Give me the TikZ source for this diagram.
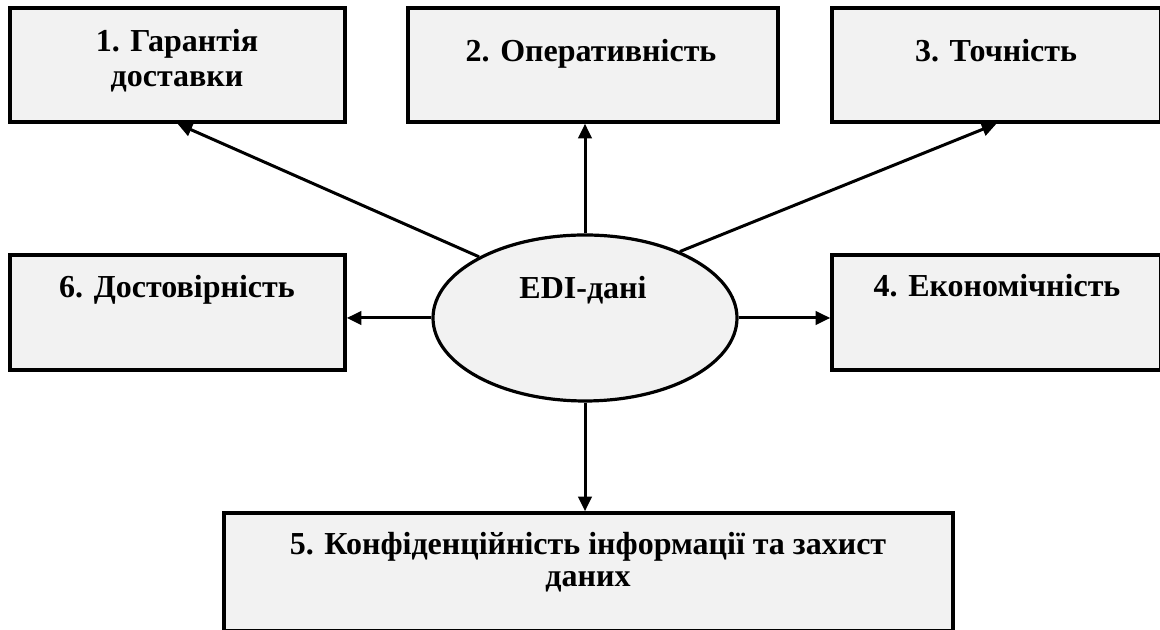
\documentclass[tikz,border=0pt]{standalone}
\usepackage{fontspec}
\setmainfont{Liberation Serif}
\usetikzlibrary{arrows.meta,shapes.geometric}

\definecolor{cellfill}{RGB}{242,242,242}

\tikzset{
  cellbox/.style={draw, line width=2.6pt, fill=cellfill, rectangle, inner sep=0pt},
  coreoval/.style={draw, line width=2.4pt, fill=cellfill, ellipse, inner sep=0pt,
    minimum width=228pt, minimum height=124.5pt},
  celltext/.style={font=\fontsize{24}{26.25}\selectfont\bfseries, align=center,
    inner sep=0pt, anchor=base},
  link/.style={line width=2.25pt, -{Triangle[length=11pt,width=10pt]}}
}

\begin{document}
\begin{tikzpicture}[x=0.75pt,y=0.75pt]
\useasboundingbox (0,0) rectangle (1160,630);

%Shape: Rectangle [id:box1]
\node[cellbox, minimum width=251.25pt, minimum height=85.5pt] (b1) at (177.5,565) {};
%Shape: Rectangle [id:box2]
\node[cellbox, minimum width=277.5pt, minimum height=85.5pt] (b2) at (593,565) {};
%Shape: Rectangle [id:box3]
\node[cellbox, minimum width=246.75pt, minimum height=85.5pt] (b3) at (996.5,565) {};
%Shape: Rectangle [id:box6]
\node[cellbox, minimum width=251.25pt, minimum height=86.25pt] (b6) at (177.5,317.5) {};
%Shape: Rectangle [id:box4]
\node[cellbox, minimum width=246.75pt, minimum height=86.25pt] (b4) at (996.5,317.5) {};
%Shape: Rectangle [id:box5]
\node[cellbox, minimum width=546.75pt, minimum height=88.5pt] (b5) at (588.5,58) {};
%Shape: Ellipse [id:core]
\node[coreoval] (e) at (585,312) {};

%Text
\node[celltext] (t1) at (177,543) {1. Гарантія\\доставки};
\node[celltext] (t2) at (591,568) {2. Оперативність};
\node[celltext] (t3) at (996,568) {3. Точність};
\node[celltext] (t6) at (177,332) {6. Достовірність};
\node[celltext] (t4) at (997,333) {4. Економічність};
\node[celltext] (te) at (583,331) {EDI-дані};
\node[celltext, font=\fontsize{24}{24}\selectfont\bfseries] (t5) at (588,43) {5. Конфіденційність інформації та захист\\даних};

%Straight Lines
\draw[link] (e.150) -- (b1.south);
\draw[link] (e.north) -- (e.north |- b2.south);
\draw[link] (e.35) -- (b3.south);
\draw[link] (e.west) -- (e.west -| b6.east);
\draw[link] (e.east) -- (e.east -| b4.west);
\draw[link] (e.south) -- (e.south |- b5.north);

\end{tikzpicture}
\end{document}
